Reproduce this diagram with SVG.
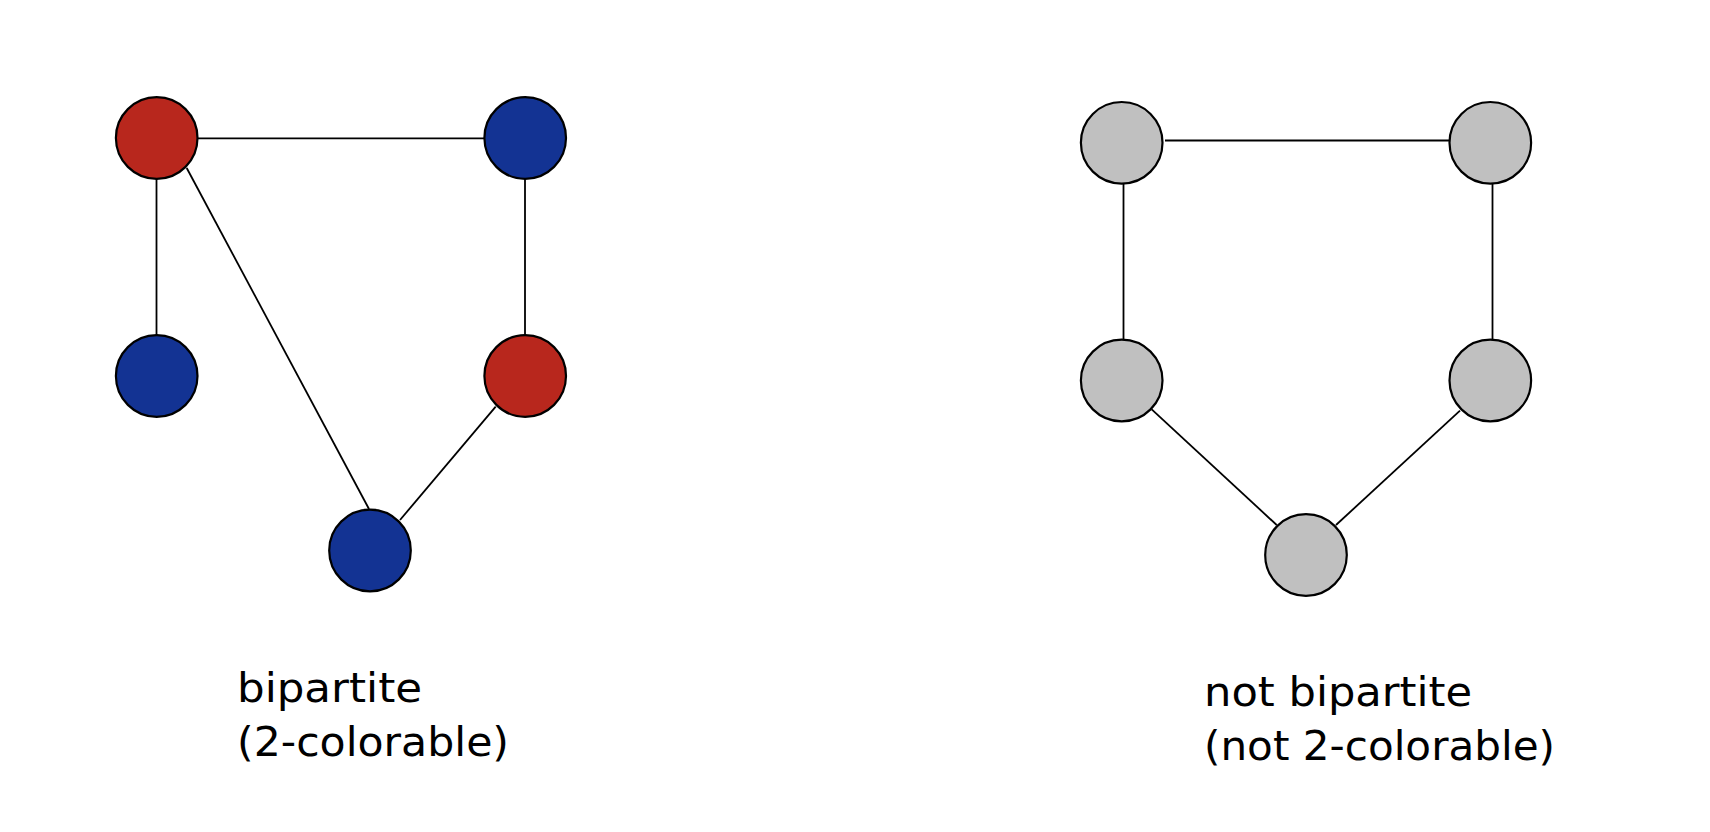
<svg xmlns="http://www.w3.org/2000/svg" width="1710" height="832" viewBox="0 0 1710 832">
<style>
.edge{stroke:#000;stroke-width:1.8;fill:none}
.node{stroke:#000;stroke-width:2.2}
.red{fill:#b8271d}
.blue{fill:#133393}
.gray{fill:#c0c0c0}
.lbl{font-family:"DejaVu Sans","Noto Sans",sans-serif;font-size:40px;fill:#000}
</style>
<rect width="1710" height="832" fill="#fff"/>
<g id="connectors">
<line class="edge" x1="198" y1="138.3" x2="484" y2="138.3"/>
<line class="edge" x1="156.5" y1="179" x2="156.5" y2="335"/>
<line class="edge" x1="525" y1="179" x2="525" y2="335"/>
<line class="edge" x1="186.7" y1="168" x2="369" y2="509"/>
<line class="edge" x1="495.7" y1="406.7" x2="400" y2="520"/>
<line class="edge" x1="1165" y1="140.5" x2="1449" y2="140.5"/>
<line class="edge" x1="1123.5" y1="184" x2="1123.5" y2="339"/>
<line class="edge" x1="1492.5" y1="184" x2="1492.5" y2="339"/>
<line class="edge" x1="1151.7" y1="409.3" x2="1276.7" y2="525"/>
<line class="edge" x1="1336" y1="525" x2="1460" y2="410.7"/>
</g>
<g id="a1"><circle class="node red" cx="156.7" cy="138" r="40.8"/></g>
<g id="a2"><circle class="node blue" cx="525.2" cy="138" r="40.8"/></g>
<g id="a3"><circle class="node blue" cx="156.7" cy="376" r="40.8"/></g>
<g id="a4"><circle class="node red" cx="525.2" cy="376" r="40.8"/></g>
<g id="a5"><circle class="node blue" cx="370" cy="550.5" r="40.8"/></g>
<g id="b1"><circle class="node gray" cx="1121.7" cy="142.8" r="40.8"/></g>
<g id="b2"><circle class="node gray" cx="1490.3" cy="142.8" r="40.8"/></g>
<g id="b3"><circle class="node gray" cx="1121.7" cy="380.5" r="40.8"/></g>
<g id="b4"><circle class="node gray" cx="1490.3" cy="380.5" r="40.8"/></g>
<g id="b5"><circle class="node gray" cx="1306" cy="555" r="40.8"/></g>
<g id="label-left">
<text class="lbl" x="237" y="702" textLength="185" lengthAdjust="spacingAndGlyphs">bipartite</text>
<text class="lbl" x="237" y="756" textLength="272" lengthAdjust="spacingAndGlyphs">(2-colorable)</text>
</g>
<g id="label-right">
<text class="lbl" x="1204" y="706" textLength="268" lengthAdjust="spacingAndGlyphs">not bipartite</text>
<text class="lbl" x="1204" y="760" textLength="351" lengthAdjust="spacingAndGlyphs">(not 2-colorable)</text>
</g>
</svg>
